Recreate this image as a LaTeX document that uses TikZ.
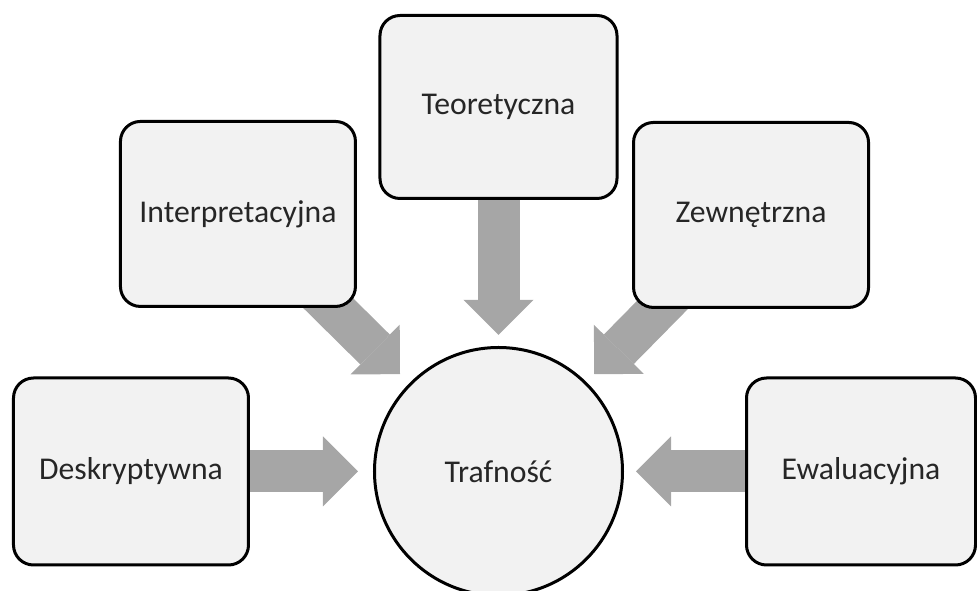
\documentclass[tikz,border=0pt]{standalone}
\usepackage{fontspec}
\setmainfont{Carlito}
\usetikzlibrary{arrows.meta, positioning}
\pgfdeclarelayer{background}
\pgfsetlayers{background,main}
\definecolor{boxfill}{HTML}{F2F2F2}
\definecolor{arrowgray}{HTML}{A6A6A6}

\begin{document}
\begin{tikzpicture}[
    every node/.style={draw, line width=3pt, fill=boxfill, align=center, text=black!85, font=\fontsize{31.7}{38}\selectfont},
    box/.style={rounded corners=20pt, minimum width=235pt, minimum height=185pt},
    arrow/.style={arrowgray, line width=42pt, -{Triangle[length=35pt, width=70pt, line width=0pt]}, shorten >=12pt}
]
\useasboundingbox (-498.5pt,-119.5pt) rectangle (478.5pt,471.5pt);

% Nodes
\node (T) [circle, minimum size=248pt] {Trafność};
\node (D) [box, left=123pt of T, minimum height=187pt] {Deskryptywna};
\node (E) [box, right=121pt of T, minimum width=229pt, minimum height=187pt] {Ewaluacyjna};
\node (Te) [box, above=146pt of T, minimum width=237pt, minimum height=183pt] {Teoretyczna};
\node (I) [box, above left=74.8pt and 52.8pt of T] {Interpretacyjna};
\node (Z) [box, above right=73.8pt and 44.8pt of T] {Zewnętrzna};

% Arrows
\begin{pgfonlayer}{background}
\draw[arrow, shorten >=15pt] (D.center) -- (T);
\draw[arrow] (E.center) -- (T);
\draw[arrow, shorten >=11pt] (Te.center) -- (T);
\draw[arrow, shorten >=13pt] (I.center) -- (T);
\draw[arrow, shorten >=11pt] (Z.center) -- (T);
\end{pgfonlayer}

\end{tikzpicture}
\end{document}
